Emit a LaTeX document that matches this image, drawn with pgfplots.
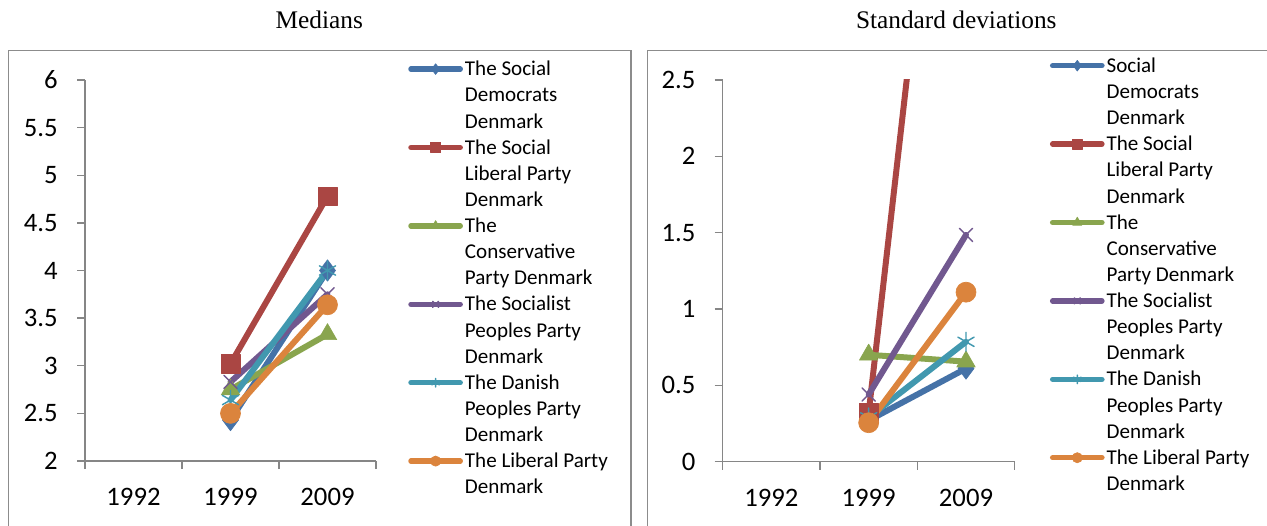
\documentclass[border=0pt]{standalone}
\usepackage{fontspec}
\setmainfont{Carlito}
\newfontfamily\titlefont{Liberation Serif}
\usepackage{pgfplots}
\pgfplotsset{compat=1.18}

% Office 2007 chart series colours
\definecolor{sBlue}{HTML}{4572A7}
\definecolor{sRed}{HTML}{AA4643}
\definecolor{sGreen}{HTML}{89A54E}
\definecolor{sPurple}{HTML}{71588F}
\definecolor{sCyan}{HTML}{4198AF}
\definecolor{sOrange}{HTML}{DB843D}
\definecolor{axisgray}{HTML}{868686}
\definecolor{framegray}{HTML}{8C8C8C}

\newcommand{\legtext}[1]{\parbox[t]{5cm}{\raggedright\strut #1\strut}}

\pgfplotsset{
  partychart/.style={
    scale only axis,
    anchor=south west,
    xmin=-0.5, xmax=2.5,
    xtick={0,1,2},
    xticklabels={1992,1999,2009},
    minor xtick={-0.5,0.5,1.5,2.5},
    axis x line=bottom,
    axis y line=left,
    axis line style={-, draw=axisgray, line width=1pt},
    tick style={draw=axisgray, line width=1pt},
    tick align=outside,
    major tick length=6pt,
    minor tick length=6pt,
    major x tick style={draw=none},
    ticklabel style={font=\fontsize{20}{24}\selectfont},
    yticklabel style={anchor=east, inner sep=0pt, xshift=-14.25pt},
    xticklabel style={anchor=north, inner sep=0pt, yshift=-14.5pt},
    /pgf/number format/assume math mode=true,
    legend cell align=left,
    legend style={
      draw=none, fill=none, inner sep=0pt,
      font=\fontsize{15.8}{19.6}\selectfont,
      cells={anchor=base west},
      nodes={inner sep=0pt, text depth=, text height=},
      row sep=0pt, column sep=1.5pt,
      anchor=north west,
    },
    legend image code/.code={
      \draw[##1, line width=4pt, line cap=round, mark repeat=2, mark phase=2, yshift=5pt]
        plot coordinates {(0pt,0pt) (18.5pt,0pt) (37pt,0pt)};
    },
  },
  pline/.style={line width=4.5pt, line cap=round, line join=round},
}

\begin{document}
\begin{tikzpicture}
\useasboundingbox (0,0) rectangle (950.25pt,393.75pt);
\clip (0,0) rectangle (950.25pt,393.75pt);

% panel frames
\draw[framegray, line width=1.1pt] (6.4pt,-10pt) -- (6.4pt,355.9pt) -- (473.25pt,355.9pt) -- (473.25pt,-10pt);
\draw[framegray, line width=1.1pt] (485.5pt,-10pt) -- (485.5pt,355.9pt) -- (980pt,355.9pt);

% titles
\node[anchor=base, font=\titlefont\fontsize{19}{23}\selectfont] at (239.5pt,372.5pt) {Medians};
\node[anchor=base, font=\titlefont\fontsize{19}{23}\selectfont] at (717.2pt,372.5pt) {Standard deviations};

% medians
\begin{axis}[partychart,
  at={(63.75pt,48pt)}, width=218.25pt, height=285.75pt,
  ymin=2, ymax=6,
  ytick={2,2.5,3,3.5,4,4.5,5,5.5,6},
  yticklabels={2,2.5,3,3.5,4,4.5,5,5.5,6},
  legend style={at={(1.110,1.0598)}},
]
\addplot[pline, sBlue, mark=diamond*, mark size=8pt, mark options={solid, line width=0.5pt}, legend image post style={mark size=4pt}]
  coordinates {(1,2.43) (2,4.00)};
\addlegendentry{\legtext{The Social\\Democrats\\Denmark}}
\addplot[pline, sRed, mark=square*, mark size=7pt, mark options={solid, line width=0.5pt}, legend image post style={mark size=3.8pt}]
  coordinates {(1,3.02) (2,4.78)};
\addlegendentry{\legtext{The Social\\Liberal Party\\Denmark}}
\addplot[pline, sGreen, mark=triangle*, mark size=8pt, mark options={solid, line width=0.5pt}, legend image post style={mark size=4pt}]
  coordinates {(1,2.75) (2,3.33)};
\addlegendentry{\legtext{The\\Conservative\\Party Denmark}}
\addplot[pline, sPurple, mark=x, mark size=7pt, mark options={solid, line width=1.1pt}, legend image post style={mark size=3.2pt}]
  coordinates {(1,2.83) (2,3.75)};
\addlegendentry{\legtext{The Socialist\\Peoples Party\\Denmark}}
\addplot[pline, sCyan, mark=asterisk, mark size=7pt, mark options={solid, line width=1.1pt}, legend image post style={mark size=3.2pt}]
  coordinates {(1,2.64) (2,4.00)};
\addlegendentry{\legtext{The Danish\\Peoples Party\\Denmark}}
\addplot[pline, sOrange, mark=*, mark size=7.5pt, mark options={solid, line width=0.5pt}, legend image post style={mark size=3.8pt}]
  coordinates {(1,2.50) (2,3.64)};
\addlegendentry{\legtext{The Liberal Party\\Denmark}}
\end{axis}

% standard deviations
\begin{axis}[partychart,
  at={(542pt,47.5pt)}, width=219pt, height=286.3pt,
  ymin=0, ymax=2.5,
  ytick={0,0.5,1,1.5,2,2.5},
  yticklabels={0,0.5,1,1.5,2,2.5},
  legend style={at={(1.1199,1.0684)}},
]
\addplot[pline, sBlue, mark=diamond*, mark size=8pt, mark options={solid, line width=0.5pt}, legend image post style={mark size=4pt}]
  coordinates {(1,0.27) (2,0.61)};
\addlegendentry{\legtext{Social\\Democrats\\Denmark}}
\addplot[pline, sRed, mark=square*, mark size=7pt, mark options={solid, line width=0.5pt}, legend image post style={mark size=3.8pt}]
  coordinates {(1,0.32) (2,5.90)};
\addlegendentry{\legtext{The Social\\Liberal Party\\Denmark}}
\addplot[pline, sGreen, mark=triangle*, mark size=8pt, mark options={solid, line width=0.5pt}, legend image post style={mark size=4pt}]
  coordinates {(1,0.70) (2,0.655)};
\addlegendentry{\legtext{The\\Conservative\\Party Denmark}}
\addplot[pline, sPurple, mark=x, mark size=7pt, mark options={solid, line width=1.1pt}, legend image post style={mark size=3.2pt}]
  coordinates {(1,0.44) (2,1.485)};
\addlegendentry{\legtext{The Socialist\\Peoples Party\\Denmark}}
\addplot[pline, sCyan, mark=asterisk, mark size=7pt, mark options={solid, line width=1.1pt}, legend image post style={mark size=3.2pt}]
  coordinates {(1,0.29) (2,0.785)};
\addlegendentry{\legtext{The Danish\\Peoples Party\\Denmark}}
\addplot[pline, sOrange, mark=*, mark size=7.5pt, mark options={solid, line width=0.5pt}, legend image post style={mark size=3.8pt}]
  coordinates {(1,0.255) (2,1.11)};
\addlegendentry{\legtext{The Liberal Party\\Denmark}}
\end{axis}
\end{tikzpicture}
\end{document}
